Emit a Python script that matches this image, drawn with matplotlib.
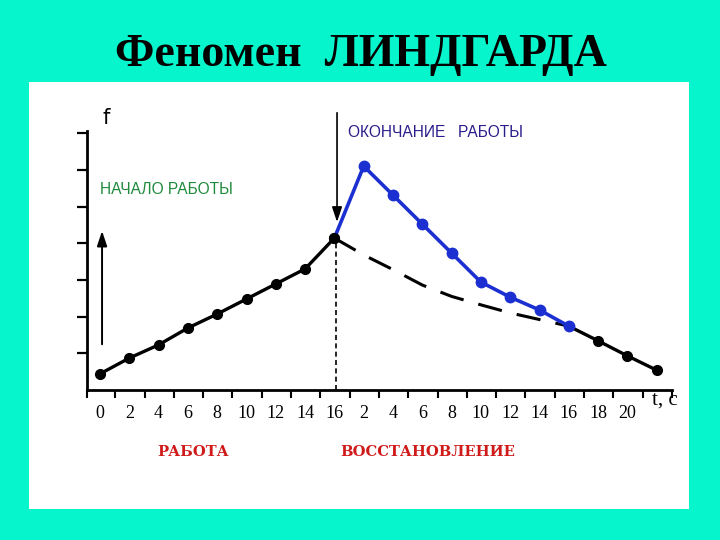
import matplotlib
matplotlib.use("Agg")
import matplotlib.pyplot as plt
from matplotlib.patches import Rectangle
import numpy as np

# time labels (s): work phase, then recovery phase
work_t = [0, 2, 4, 6, 8, 10, 12, 14, 16]
rec_t = [2, 4, 6, 8, 10, 12, 14, 16, 18, 20, 22]

# f values
work_f = [0.44, 0.87, 1.23, 1.69, 2.07, 2.48, 2.89, 3.30, 4.14]
rec_blue_f = [6.10, 5.31, 4.52, 3.73, 2.94, 2.53, 2.18, 1.74]     # after work, 2..16 s
rec_tail_f = [1.34, 0.93, 0.54]                                    # 18..22 s
passive_f = [4.14, 3.68, 3.28, 2.86, 2.55, 2.32, 2.10, 1.92, 1.74]  # dashed, 16(work)..16 s

W, H = 720, 540
bg = '#06f5cc'

fig = plt.figure(figsize=(7.2, 5.4), dpi=100, facecolor=bg)
fig.patches.append(Rectangle((29 / W, 1 - 509 / H), 660 / W, 427 / H,
                             transform=fig.transFigure, facecolor='white',
                             edgecolor='none', zorder=-10))

def fx(px):
    return px / W

def fy(py):
    return 1 - py / H

# axes placed so one step = 29.3 px, one f unit = 36.7 px
x0, x1 = -0.45, 19.52
y0, y1 = 0, 7.05
left = (100 + 29.3 * x0) / W
right = (100 + 29.3 * x1) / W
bottom = 1 - 390 / H
top = 1 - (390 - 36.7 * y1) / H
ax = fig.add_axes([left, bottom, right - left, top - bottom])
ax.set_facecolor('none')
ax.set_xlim(x0, x1)
ax.set_ylim(y0, y1)

n_work = len(work_t)
pos_all = np.arange(n_work + len(rec_t))
pos_work = pos_all[:n_work]
pos_rec = pos_all[n_work:]
n_blue = len(rec_blue_f)

# work curve
ax.plot(pos_work, work_f, color='black', lw=2.4, marker='o', ms=7, zorder=4, clip_on=False)
# passive recovery (dashed)
ax.plot(np.r_[pos_work[-1], pos_rec[:n_blue]], passive_f, color='black', lw=2.2,
        dashes=(8, 5), zorder=3)
# active recovery (blue)
ax.plot(np.r_[pos_work[-1], pos_rec[:n_blue]], [work_f[-1]] + rec_blue_f,
        color='#1c30d2', lw=2.6, zorder=5)
ax.plot(pos_rec[:n_blue], rec_blue_f, ls='none', marker='o', ms=7.5,
        color='#1c30d2', zorder=6)
# tail
ax.plot(np.r_[pos_rec[n_blue - 1], pos_rec[n_blue:]], [rec_blue_f[-1]] + rec_tail_f,
        color='black', lw=2.4, zorder=4)
ax.plot(pos_rec[n_blue:], rec_tail_f, ls='none', marker='o', ms=7, color='black',
        zorder=4, clip_on=False)
ax.plot(pos_work[-1], work_f[-1], marker='o', ms=7, color='black', zorder=7)

# vertical dashed line at end of work
ax.plot([pos_work[-1] + 0.05] * 2, [0, work_f[-1]], color='black', lw=1.2,
        dashes=(3, 2), zorder=2)

# arrows
ax.annotate('', xy=(0.07, 4.41), xytext=(0.07, 1.17),
            arrowprops=dict(arrowstyle='-|>,head_length=0.9,head_width=0.3',
                            color='black', lw=1.4), annotation_clip=False)
ax.annotate('', xy=(pos_work[-1] + 0.09, 4.5), xytext=(pos_work[-1] + 0.09, 7.63),
            arrowprops=dict(arrowstyle='-|>,head_length=0.9,head_width=0.3',
                            color='black', lw=1.2), annotation_clip=False)

# spines and ticks
for s in ['top', 'right']:
    ax.spines[s].set_visible(False)
ax.spines['left'].set_linewidth(2)
ax.spines['bottom'].set_linewidth(2)
ax.set_yticks(np.arange(1, 8))
ax.set_yticklabels([])
ax.tick_params(axis='y', direction='out', length=7, width=1.6)

ax.set_xticks(pos_all[:-1])
ax.set_xticklabels([str(t) for t in work_t + rec_t[:-1]],
                   family='Liberation Serif', fontsize=13)
ax.tick_params(axis='x', which='major', length=0, pad=11)
ax.set_xticks(np.r_[x0, np.arange(0.52, 19.6, 1)], minor=True)
ax.tick_params(axis='x', which='minor', direction='out', length=6, width=1.5)

# texts
fig.text(fx(361), fy(55), 'Феномен  ЛИНДГАРДА', ha='center', va='center',
         family='Liberation Serif', fontweight='bold', fontsize=33)
fig.text(fx(106), fy(118), 'f', ha='center', va='center',
         family='DejaVu Sans', fontsize=15)
fig.text(fx(665), fy(400), 't, c', ha='center', va='center',
         family='Liberation Serif', fontsize=15)
fig.text(fx(100), fy(190), 'НАЧАЛО РАБОТЫ', ha='left', va='center',
         family='Liberation Sans', fontsize=11.2, color='#1e8a3c')
fig.text(fx(348), fy(133), 'ОКОНЧАНИЕ   РАБОТЫ', ha='left', va='center',
         family='Liberation Sans', fontsize=11.2, color='#2b1d8c')
fig.text(fx(193), fy(452), 'РАБОТА', ha='center', va='center',
         family='DejaVu Serif', fontweight='bold', fontsize=10.6, color='#d01a1a')
fig.text(fx(428), fy(452), 'ВОССТАНОВЛЕНИЕ', ha='center', va='center',
         family='DejaVu Serif', fontweight='bold', fontsize=10.6, color='#d01a1a')

fig.savefig('out.png', dpi=100, facecolor=bg)
